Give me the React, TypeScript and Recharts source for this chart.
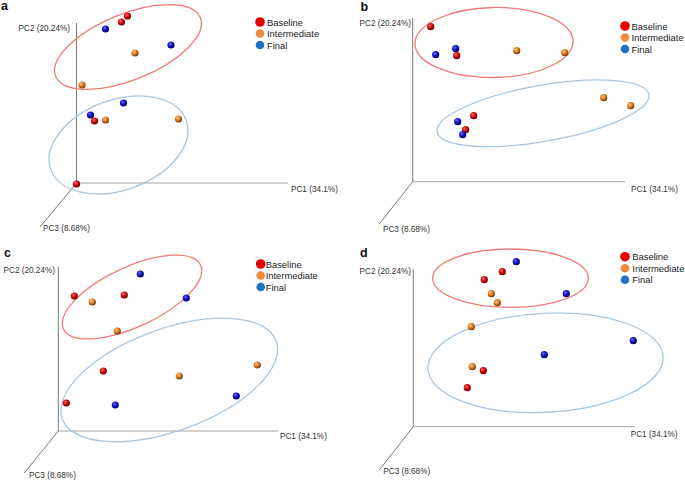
import React from 'react';
import { ScatterChart, Scatter, XAxis, YAxis, ReferenceLine } from 'recharts';

type Pt = { x: number; y: number };
type Ell = { x: number; y: number; rx: number; ry: number; angle: number; color: string };

const FONT = 'Arial, "Liberation Sans", Helvetica, sans-serif';

const groupNames = ['Baseline', 'Intermediate', 'Final'];
const axisTitles = ['PC1 (34.1%)', 'PC2 (20.24%)', 'PC3 (8.68%)'];
const panelLetters = ['a', 'b', 'c', 'd'];

// scores, in plot units measured from the axis origin (PC1 right, PC2 up)
const aBaseline: Pt[] = [{ x: 51, y: 167 }, { x: 45, y: 161 }, { x: 18, y: 62 }, { x: 0, y: -1 }];
const aIntermediate: Pt[] = [{ x: 58.5, y: 130 }, { x: 5.5, y: 98 }, { x: 29, y: 63 }, { x: 102, y: 64 }];
const aFinal: Pt[] = [{ x: 29, y: 154 }, { x: 94.5, y: 138 }, { x: 47, y: 80 }, { x: 14, y: 68 }];

const bBaseline: Pt[] = [{ x: 18, y: 155 }, { x: 44, y: 126 }, { x: 61, y: 66 }, { x: 53, y: 52 }];
const bIntermediate: Pt[] = [{ x: 104, y: 131 }, { x: 152, y: 129 }, { x: 191, y: 84 }, { x: 218, y: 76 }];
const bFinal: Pt[] = [{ x: 43, y: 133 }, { x: 23, y: 127 }, { x: 45, y: 60 }, { x: 50, y: 47 }];

const cBaseline: Pt[] = [{ x: 16, y: 135 }, { x: 66, y: 136 }, { x: 45, y: 60 }, { x: 8, y: 28 }];
const cIntermediate: Pt[] = [{ x: 34, y: 129 }, { x: 59, y: 100 }, { x: 121, y: 55 }, { x: 199, y: 66 }];
const cFinal: Pt[] = [{ x: 82, y: 157 }, { x: 128, y: 133 }, { x: 178, y: 35 }, { x: 57, y: 26 }];

const dBaseline: Pt[] = [{ x: 89, y: 155 }, { x: 71, y: 147 }, { x: 70, y: 56 }, { x: 54, y: 39 }];
const dIntermediate: Pt[] = [{ x: 78, y: 133 }, { x: 84, y: 124 }, { x: 58, y: 100 }, { x: 59, y: 60 }];
const dFinal: Pt[] = [{ x: 103, y: 165 }, { x: 153, y: 133 }, { x: 220, y: 86 }, { x: 131, y: 72 }];

// cluster ellipses
const RED_E = '#f07a7a';
const BLUE_E = '#a9c6de';
const aEllipses: Ell[] = [
  { x: 51.5, y: 136, rx: 78, ry: 33, angle: -22, color: RED_E },
  { x: 42, y: 38, rx: 72, ry: 45, angle: -20, color: BLUE_E },
];
const bEllipses: Ell[] = [
  { x: 81.3, y: 139.2, rx: 79, ry: 35, angle: -1, color: RED_E },
  { x: 130.3, y: 68.4, rx: 107.5, ry: 28, angle: -10, color: BLUE_E },
];
const cEllipses: Ell[] = [
  { x: 73.7, y: 134, rx: 75.6, ry: 30, angle: -25, color: RED_E },
  { x: 111, y: 51, rx: 113.8, ry: 51, angle: -20, color: BLUE_E },
];
const dEllipses: Ell[] = [
  { x: 97.2, y: 148.5, rx: 77.8, ry: 29.2, angle: 0, color: RED_E },
  { x: 132.2, y: 63.9, rx: 117.8, ry: 49.5, angle: -3, color: BLUE_E },
];

const panels = [
  {
    left: 0, top: 0, width: 340, height: 240, ox: 76.5, oy: 183,
    pc1: 211.5, pc2: 160, pc3: { x: -36.5, y: -44 },
    labels: [{ x: 214.5, y: -6 }, { x: -6.5, y: 155 }, { x: -33.5, y: -45 }],
    data: [aBaseline, aIntermediate, aFinal], ellipses: aEllipses,
    letter: { x: 1, y: 10 }, legend: { x: 260, y: 22, tx: 267 },
  },
  {
    left: 340, top: 0, width: 345, height: 240, ox: 72.7, oy: 181.7,
    pc1: 212.3, pc2: 163.7, pc3: { x: -33.4, y: -42.3 },
    labels: [{ x: 218.3, y: -7.3 }, { x: -1.7, y: 158.7 }, { x: -29.7, y: -47.3 }],
    data: [bBaseline, bIntermediate, bFinal], ellipses: bEllipses,
    letter: { x: 20.5, y: 11 }, legend: { x: 285, y: 26, tx: 291.5 },
  },
  {
    left: 0, top: 240, width: 340, height: 241, ox: 58.3, oy: 191,
    pc1: 220, pc2: 164.3, pc3: { x: -34.3, y: -42.3 },
    labels: [{ x: 221.7, y: -5.7 }, { x: -3.3, y: 161 }, { x: -29.3, y: -44 }],
    data: [cBaseline, cIntermediate, cFinal], ellipses: cEllipses,
    letter: { x: 4, y: 17 }, legend: { x: 260.7, y: 24, tx: 265.7 },
  },
  {
    left: 340, top: 240, width: 345, height: 241, ox: 73.3, oy: 186.7,
    pc1: 221.7, pc2: 157.4, pc3: { x: -34, y: -43.3 },
    labels: [{ x: 217.4, y: -7.3 }, { x: -2.3, y: 155 }, { x: -30, y: -45 }],
    data: [dBaseline, dIntermediate, dFinal], ellipses: dEllipses,
    letter: { x: 20, y: 17 }, legend: { x: 285, y: 16.7, tx: 292.3 },
  },
];

const sphereGrads = ['sphRed', 'sphOrange', 'sphBlue'];
const legendColors = ['#e60000', '#f08a3c', '#1e72c4'];
const legendRadii = [4.8, 4.3, 4.3];

const sphere = (grad: string) => (props: any) => {
  const { cx, cy } = props;
  if (cx == null || cy == null) return <g />;
  return <circle cx={cx} cy={cy} r={3.6} fill={`url(#${grad})`} />;
};

const ellipseShape = (props: any) => {
  const { cx, cy, payload } = props;
  if (cx == null || cy == null) return <g />;
  return (
    <ellipse
      cx={cx}
      cy={cy}
      rx={payload.rx}
      ry={payload.ry}
      transform={`rotate(${payload.angle} ${cx} ${cy})`}
      fill="none"
      stroke={payload.color}
      strokeWidth={1.3}
    />
  );
};

const labelShape = (props: any) => {
  const { cx, cy, payload } = props;
  if (cx == null || cy == null) return <g />;
  return (
    <text
      x={cx}
      y={cy}
      textAnchor={payload.anchor}
      dominantBaseline="central"
      fontFamily={FONT}
      fontSize={8.2}
      fill="#333"
    >
      {payload.text}
    </text>
  );
};

const Panel = ({ p }: { p: (typeof panels)[number] }) => {
  const labelData = [
    { ...p.labels[0], text: axisTitles[0], anchor: 'start' },
    { ...p.labels[1], text: axisTitles[1], anchor: 'end' },
    { ...p.labels[2], text: axisTitles[2], anchor: 'start' },
  ];
  return (
    <div style={{ position: 'absolute', left: p.left, top: p.top }}>
      <ScatterChart width={p.width} height={p.height} margin={{ top: 0, right: 0, bottom: 0, left: 0 }}>
        <XAxis type="number" dataKey="x" domain={[-p.ox, p.width - p.ox]} hide />
        <YAxis type="number" dataKey="y" domain={[p.oy - p.height, p.oy]} hide />
        <ReferenceLine segment={[{ x: 0, y: 0 }, { x: p.pc1, y: 0 }]} stroke="#a3a3a3" strokeWidth={1} ifOverflow="visible" />
        <ReferenceLine segment={[{ x: 0, y: 0 }, { x: 0, y: p.pc2 }]} stroke="#7a7a7a" strokeWidth={1} ifOverflow="visible" />
        <ReferenceLine segment={[{ x: 0, y: 0 }, p.pc3]} stroke="#555" strokeWidth={0.8} ifOverflow="visible" />
        <Scatter data={p.ellipses} shape={ellipseShape} isAnimationActive={false} />
        {p.data.map((d, i) => (
          <Scatter key={groupNames[i]} name={groupNames[i]} data={d} shape={sphere(sphereGrads[i])} isAnimationActive={false} />
        ))}
        <Scatter data={labelData} shape={labelShape} isAnimationActive={false} />
      </ScatterChart>
    </div>
  );
};

export default function App() {
  return (
    <div style={{ position: 'absolute', left: 0, top: 0, width: 685, height: 481, background: '#fff', overflow: 'hidden' }}>
      <svg width={0} height={0} style={{ position: 'absolute' }}>
        <defs>
          <radialGradient id="sphRed" cx="38%" cy="35%" r="70%">
            <stop offset="0%" stopColor="#ff7070" />
            <stop offset="45%" stopColor="#d40a0a" />
            <stop offset="100%" stopColor="#5a0000" />
          </radialGradient>
          <radialGradient id="sphOrange" cx="38%" cy="35%" r="70%">
            <stop offset="0%" stopColor="#ffc890" />
            <stop offset="45%" stopColor="#e2801e" />
            <stop offset="100%" stopColor="#5e2e00" />
          </radialGradient>
          <radialGradient id="sphBlue" cx="38%" cy="35%" r="70%">
            <stop offset="0%" stopColor="#6a6aff" />
            <stop offset="45%" stopColor="#1414c8" />
            <stop offset="100%" stopColor="#00005a" />
          </radialGradient>
        </defs>
      </svg>
      {panels.map((p, i) => (
        <Panel key={i} p={p} />
      ))}
      <svg width={685} height={481} style={{ position: 'absolute', left: 0, top: 0, pointerEvents: 'none' }}>
        {panels.map((p, i) => (
          <g key={i} transform={`translate(${p.left},${p.top})`}>
            <text x={p.letter.x} y={p.letter.y} fontFamily={FONT} fontWeight="bold" fontSize={12.5} fill="#111">
              {panelLetters[i]}
            </text>
            {groupNames.map((g, j) => (
              <g key={g}>
                <circle cx={p.legend.x} cy={p.legend.y + j * 11.5} r={legendRadii[j]} fill={legendColors[j]} />
                <text
                  x={p.legend.tx}
                  y={p.legend.y + j * 11.5}
                  dominantBaseline="central"
                  fontFamily={FONT}
                  fontSize={9.4}
                  fill="#222"
                >
                  {g}
                </text>
              </g>
            ))}
          </g>
        ))}
      </svg>
    </div>
  );
}
